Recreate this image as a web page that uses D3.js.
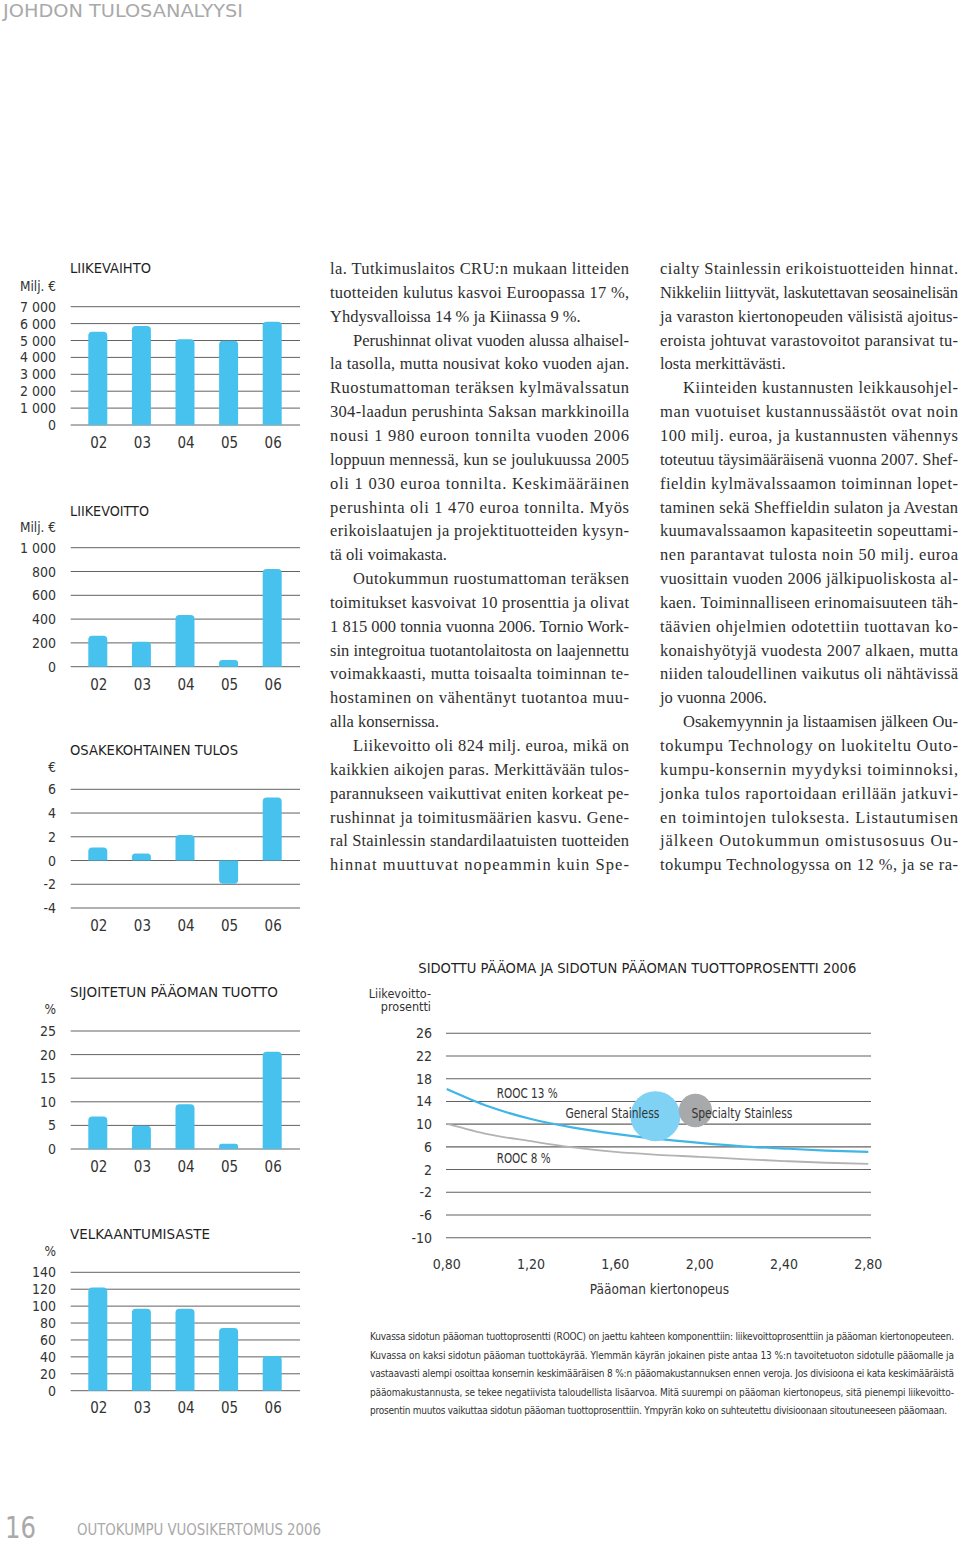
<!DOCTYPE html>
<html><head><meta charset="utf-8">
<script src="https://cdn.jsdelivr.net/npm/d3@7"></script>
<style>body{margin:0;background:#fff}svg{display:block}</style>
</head><body><svg id="c" width="960" height="1547"></svg>
<script>
// ---------- DATA ----------
const years = ["02","03","04","05","06"];
const liikevaihto = [5520,5860,5070,4990,6110];
const liikevoitto = [260,210,434,56,821];
const osakekohtainenTulos = [1.1,0.6,2.16,-1.96,5.3];
const sijoitetunPaaomanTuotto = [6.9,4.9,9.5,1.1,20.6];
const velkaantumisaste = [122,97,97,74,41];
const liikevaihtoTicks = [0,1000,2000,3000,4000,5000,6000,7000];
const liikevoittoTicks = [0,200,400,600,800,1000];
const osakeTicks = [-4,-2,0,2,4,6];
const sijoitetunTicks = [0,5,10,15,20,25];
const velkaTicks = [0,20,40,60,80,100,120,140];

const kiertonopeus = [0.8,1.0,1.2,1.4,1.6,1.8,2.0,2.2,2.4,2.6,2.8];
const rooc13 = [16.2,13.1,10.9,9.4,8.3,7.4,6.7,6.1,5.7,5.35,5.1];
const rooc8 = [10.1,8.2,7.0,5.9,5.1,4.6,4.25,3.85,3.5,3.2,3.0];
const divisions = ["General Stainless","Specialty Stainless"];
const divKierto = [1.79,1.98];
const divLiikevoitto = [11.4,12.4];
const divPaaoma = [5000,2230];
const bubbleYTicks = [26,22,18,14,10,6,2,-2,-6,-10];
const bubbleXTicks = [0.8,1.2,1.6,2.0,2.4,2.8];

const col1 = [
 ["la. Tutkimuslaitos CRU:n mukaan litteiden","tuotteiden kulutus kasvoi Euroopassa 17 %,","Yhdysvalloissa 14 % ja Kiinassa 9 %."],
 ["Perushinnat olivat vuoden alussa alhaisel-","la tasolla, mutta nousivat koko vuoden ajan.","Ruostumattoman teräksen kylmävalssatun","304-laadun perushinta Saksan markkinoilla","nousi 1 980 euroon tonnilta vuoden 2006","loppuun mennessä, kun se joulukuussa 2005","oli 1 030 euroa tonnilta. Keskimääräinen","perushinta oli 1 470 euroa tonnilta. Myös","erikoislaatujen ja projektituotteiden kysyn-","tä oli voimakasta."],
 ["Outokummun ruostumattoman teräksen","toimitukset kasvoivat 10 prosenttia ja olivat","1 815 000 tonnia vuonna 2006. Tornio Work-","sin integroitua tuotantolaitosta on laajennettu","voimakkaasti, mutta toisaalta toiminnan te-","hostaminen on vähentänyt tuotantoa muu-","alla konsernissa."],
 ["Liikevoitto oli 824 milj. euroa, mikä on","kaikkien aikojen paras. Merkittävään tulos-","parannukseen vaikuttivat eniten korkeat pe-","rushinnat ja toimitusmäärien kasvu. Gene-","ral Stainlessin standardilaatuisten tuotteiden","hinnat muuttuvat nopeammin kuin Spe-"]
];
const col2 = [
 ["cialty Stainlessin erikoistuotteiden hinnat.","Nikkeliin liittyvät, laskutettavan seosainelisän","ja varaston kiertonopeuden välisistä ajoitus-","eroista johtuvat varastovoitot paransivat tu-","losta merkittävästi."],
 ["Kiinteiden kustannusten leikkausohjel-","man vuotuiset kustannussäästöt ovat noin","100 milj. euroa, ja kustannusten vähennys","toteutuu täysimääräisenä vuonna 2007. Shef-","fieldin kylmävalssaamon toiminnan lopet-","taminen sekä Sheffieldin sulaton ja Avestan","kuumavalssaamon kapasiteetin sopeuttami-","nen parantavat tulosta noin 50 milj. euroa","vuosittain vuoden 2006 jälkipuoliskosta al-","kaen. Toiminnalliseen erinomaisuuteen täh-","täävien ohjelmien odotettiin tuottavan ko-","konaishyötyjä vuodesta 2007 alkaen, mutta","niiden taloudellinen vaikutus oli nähtävissä","jo vuonna 2006."],
 ["Osakemyynnin ja listaamisen jälkeen Ou-","tokumpu Technology on luokiteltu Outo-","kumpu-konsernin myydyksi toiminnoksi,","jonka tulos raportoidaan erillään jatkuvi-","en toimintojen tuloksesta. Listautumisen","jälkeen Outokummun omistusosuus Ou-","tokumpu Technologyssa on 12 %, ja se ra-"]
];
const footnote = [
 "Kuvassa sidotun pääoman tuottoprosentti (ROOC) on jaettu kahteen komponenttiin: liikevoittoprosenttiin ja pääoman kiertonopeuteen.",
 "Kuvassa on kaksi sidotun pääoman tuottokäyrää. Ylemmän käyrän jokainen piste antaa 13 %:n tavoitetuoton sidotulle pääomalle ja",
 "vastaavasti alempi osoittaa konsernin keskimääräisen 8 %:n pääomakustannuksen ennen veroja. Jos divisioona ei kata keskimääräistä",
 "pääomakustannusta, se tekee negatiivista taloudellista lisäarvoa. Mitä suurempi on pääoman kiertonopeus, sitä pienempi liikevoitto-",
 "prosentin muutos vaikuttaa sidotun pääoman tuottoprosenttiin. Ympyrän koko on suhteutettu divisioonaan sitoutuneeseen pääomaan."
];

// ---------- STYLE ----------
const SANS = '"Liberation Sans Narrow","DejaVu Sans Condensed","Roboto Condensed",Roboto,sans-serif';
const SERIF = '"Liberation Serif","DejaVu Serif",serif';
const BAR = "#47c1ee";
const GRID = "#626262";
const TXT = "#333";

const loc = d3.formatLocale({decimal:",", thousands:" ", grouping:[3], currency:["","€"], minus:"-"});
const fInt = loc.format(",d");
const f2 = loc.format(".2f");

const svg = d3.select("#c");
svg.append("rect").attr("width",960).attr("height",1547).attr("fill","#fff");

// header/footer
svg.append("text").attr("x",3).attr("y",17).attr("font-family",SANS).attr("font-size",18.5)
  .attr("fill","#a9a9a9").attr("textLength",240).attr("lengthAdjust","spacingAndGlyphs").text("JOHDON TULOSANALYYSI");
svg.append("text").attr("x",5).attr("y",1538).attr("font-family",SANS).attr("font-size",30)
  .attr("fill","#a9a9a9").attr("textLength",31).attr("lengthAdjust","spacingAndGlyphs").text("16");
svg.append("text").attr("x",77).attr("y",1535).attr("font-family",SANS).attr("font-size",16)
  .attr("fill","#a9a9a9").attr("textLength",244).attr("lengthAdjust","spacingAndGlyphs").text("OUTOKUMPU VUOSIKERTOMUS 2006");

// ---------- BAR CHARTS ----------
function barPath(x, w, y0, y1, r){
  const s = y1 < y0 ? -1 : 1;
  const h = Math.abs(y1-y0); r = Math.min(r, h/2, w/2);
  return `M${x},${y0}L${x},${y1 - s*r}Q${x},${y1} ${x+r},${y1}L${x+w-r},${y1}Q${x+w},${y1} ${x+w},${y1 - s*r}L${x+w},${y0}Z`;
}
const charts = [
  {title:"LIIKEVAIHTO", tw:81, unit:"Milj. €", values:liikevaihto, ticks:liikevaihtoTicks, range:[425,306.7], titleY:273.3, unitY:290.7, yearY:448.3},
  {title:"LIIKEVOITTO", tw:79, unit:"Milj. €", values:liikevoitto, ticks:liikevoittoTicks, range:[666.7,547.7], titleY:515.7, unitY:531.7, yearY:690},
  {title:"OSAKEKOHTAINEN TULOS", tw:168, unit:"€", values:osakekohtainenTulos, ticks:osakeTicks, range:[908,789.3], titleY:755, unitY:772.3, yearY:931},
  {title:"SIJOITETUN PÄÄOMAN TUOTTO", tw:208, unit:"%", values:sijoitetunPaaomanTuotto, ticks:sijoitetunTicks, range:[1149,1031], titleY:996.7, unitY:1014, yearY:1172.3},
  {title:"VELKAANTUMISASTE", tw:140, unit:"%", values:velkaantumisaste, ticks:velkaTicks, range:[1390.7,1272.3], titleY:1239, unitY:1256, yearY:1413.3}
];
const xBar = d3.scalePoint().domain(years).range([97.8,272.2]);
const bw = 19;
charts.forEach(c=>{
  const g = svg.append("g");
  const y = d3.scaleLinear().domain(d3.extent(c.ticks)).range(c.range);
  g.append("text").attr("x",70).attr("y",c.titleY).attr("font-family",SANS).attr("font-size",14.5)
    .attr("fill","#1f1f1f").attr("textLength",c.tw).attr("lengthAdjust","spacingAndGlyphs").text(c.title);
  g.append("text").attr("x",56).attr("y",c.unitY).attr("text-anchor","end").attr("font-family",SANS)
    .attr("font-size",13.5).attr("fill",TXT).text(c.unit);
  g.selectAll("line.grid").data(c.ticks).join("line").attr("class","grid")
    .attr("x1",70.7).attr("x2",300).attr("y1",d=>y(d)).attr("y2",d=>y(d))
    .attr("stroke",GRID).attr("stroke-width",1);
  g.selectAll("text.tick").data(c.ticks).join("text").attr("class","tick")
    .attr("x",56).attr("y",d=>y(d)+5).attr("text-anchor","end").attr("font-family",SANS)
    .attr("font-size",14).attr("fill",TXT).text(d=>fInt(d));
  g.selectAll("path.bar").data(c.values).join("path").attr("class","bar")
    .attr("d",(d,i)=>barPath(xBar(years[i])-bw/2, bw, y(0), y(d), 4)).attr("fill",BAR);
  g.selectAll("text.yr").data(years).join("text").attr("class","yr")
    .attr("x",d=>xBar(d)+1).attr("y",c.yearY).attr("text-anchor","middle").attr("font-family",SANS)
    .attr("font-size",15).attr("fill",TXT).text(d=>d);
});

// ---------- BUBBLE CHART ----------
const bx = d3.scaleLinear().domain([0.8,2.8]).range([446.7,868.3]);
const by = d3.scaleLinear().domain([-10,26]).range([1237.7,1033.3]);
const br = d3.scaleSqrt().domain([0,5000]).range([0,25]);
const bg = svg.append("g");
bg.append("text").attr("x",418.3).attr("y",973.3).attr("font-family",SANS).attr("font-size",14.5)
  .attr("fill","#1f1f1f").attr("textLength",438).attr("lengthAdjust","spacingAndGlyphs")
  .text("SIDOTTU PÄÄOMA JA SIDOTUN PÄÄOMAN TUOTTOPROSENTTI 2006");
bg.append("text").attr("x",431).attr("y",998.3).attr("text-anchor","end").attr("font-family",SANS)
  .attr("font-size",12.5).attr("fill",TXT).text("Liikevoitto-");
bg.append("text").attr("x",431).attr("y",1011).attr("text-anchor","end").attr("font-family",SANS)
  .attr("font-size",12.5).attr("fill",TXT).text("prosentti");
bg.selectAll("line.grid").data(bubbleYTicks).join("line").attr("class","grid")
  .attr("x1",446).attr("x2",871).attr("y1",d=>by(d)).attr("y2",d=>by(d))
  .attr("stroke",GRID).attr("stroke-width",1.1);
bg.selectAll("text.yt").data(bubbleYTicks).join("text").attr("class","yt")
  .attr("x",432).attr("y",d=>by(d)+5).attr("text-anchor","end").attr("font-family",SANS)
  .attr("font-size",14).attr("fill",TXT).text(d=>fInt(d));
bg.selectAll("text.xt").data(bubbleXTicks).join("text").attr("class","xt")
  .attr("x",d=>bx(d)).attr("y",1269).attr("text-anchor","middle").attr("font-family",SANS)
  .attr("font-size",14).attr("fill",TXT).text(d=>f2(d));
bg.append("text").attr("x",659.5).attr("y",1294.3).attr("text-anchor","middle").attr("font-family",SANS)
  .attr("font-size",13.5).attr("fill",TXT).text("Pääoman kiertonopeus");

const line = d3.line().x(d=>bx(d[0])).y(d=>by(d[1])).curve(d3.curveMonotoneX);
bg.append("path").attr("d",line(kiertonopeus.map((k,i)=>[k,rooc8[i]]))).attr("fill","none")
  .attr("stroke","#b3b3b3").attr("stroke-width",1.8);
bg.append("path").attr("d",line(kiertonopeus.map((k,i)=>[k,rooc13[i]]))).attr("fill","none")
  .attr("stroke","#3fb6e6").attr("stroke-width",2.2);
const bubbleColors = ["#80d2f4","#a8a9ab"];
bg.selectAll("circle.b").data(divisions).join("circle").attr("class","b")
  .attr("cx",(d,i)=>bx(divKierto[i])).attr("cy",(d,i)=>by(divLiikevoitto[i]))
  .attr("r",(d,i)=>br(divPaaoma[i])).attr("fill",(d,i)=>bubbleColors[i]);
bg.append("text").attr("x",bx(divKierto[0])+4).attr("y",by(divLiikevoitto[0])+1.5).attr("text-anchor","end")
  .attr("font-family",SANS).attr("font-size",14).attr("fill",TXT)
  .attr("textLength",94).attr("lengthAdjust","spacingAndGlyphs").text(divisions[0]);
bg.append("text").attr("x",bx(divKierto[1])-4).attr("y",by(divLiikevoitto[0])+1.5).attr("text-anchor","start")
  .attr("font-family",SANS).attr("font-size",14).attr("fill",TXT)
  .attr("textLength",101).attr("lengthAdjust","spacingAndGlyphs").text(divisions[1]);
bg.append("text").attr("x",bx(1.037)).attr("y",by(15.4)+5).attr("font-family",SANS).attr("font-size",14)
  .attr("fill",TXT).attr("textLength",61).attr("lengthAdjust","spacingAndGlyphs").text("ROOC 13 %");
bg.append("text").attr("x",bx(1.037)).attr("y",by(4.1)+5).attr("font-family",SANS).attr("font-size",14)
  .attr("fill",TXT).attr("textLength",54).attr("lengthAdjust","spacingAndGlyphs").text("ROOC 8 %");

// footnote
svg.selectAll("text.fn").data(footnote).join("text").attr("class","fn")
  .attr("x",370).attr("y",(d,i)=>1340+i*18.5).attr("font-family",SANS).attr("font-size",10)
  .attr("fill",TXT).attr("textLength",(d,i)=> i===footnote.length-1 ? 577 : 584).attr("lengthAdjust","spacing").text(d=>d);

// ---------- BODY TEXT ----------
function column(paras, x0, x1, y0){
  let k = 0;
  paras.forEach((p,pi)=>{
    p.forEach((t,li)=>{
      const indent = (pi>0 && li===0) ? 23 : 0;
      const last = (li===p.length-1) && pi<paras.length-1;
      const el = svg.append("text").attr("x",x0+indent).attr("y",y0+k*23.85)
        .attr("font-family",SERIF).attr("font-size",16.5).attr("fill","#2e2e2e").text(t);
      if(!last){ el.attr("textLength",x1-x0-indent).attr("lengthAdjust","spacing"); }
      k++;
    });
  });
}
column(col1, 330, 629, 274);
column(col2, 660, 958, 274);
</script></body></html>
